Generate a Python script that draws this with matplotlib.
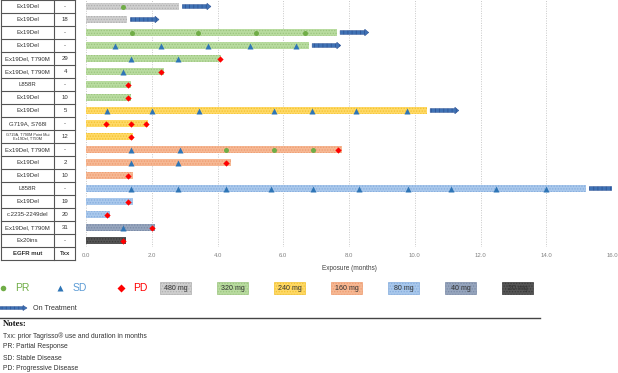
import matplotlib
matplotlib.use("Agg")
import matplotlib.pyplot as plt
from matplotlib.patches import Rectangle, FancyArrow

plt.rcParams['font.family'] = ['Liberation Sans', 'DejaVu Sans']
plt.rcParams['hatch.linewidth'] = 0.6

# patient rows, top to bottom
mutations = ["Ex19Del", "Ex19Del", "Ex19Del", "Ex19Del", "Ex19Del, T790M",
             "Ex19Del, T790M", "L858R", "Ex19Del", "Ex19Del", "G719A, S768I",
             "G719A, T790M Point Mut\nEx19Del, T790M", "Ex19Del, T790M", "Ex19Del",
             "Ex19Del", "L858R", "Ex19Del", "c.2235-2249del", "Ex19Del, T790M", "Ex20ins"]
txx = ["-", "18", "-", "-", "29", "4", "-", "10", "5", "-", "12", "-", "2", "10",
       "-", "19", "20", "31", "-"]
doses = ["480 mg", "480 mg", "320 mg", "320 mg", "320 mg", "320 mg", "320 mg", "320 mg",
         "240 mg", "240 mg", "240 mg", "160 mg", "160 mg", "160 mg",
         "80 mg", "80 mg", "80 mg", "40 mg", "20 mg"]
exposure = [2.83, 1.25, 7.63, 6.78, 4.10, 2.38, 1.38, 1.38, 10.37, 1.90, 1.42,
            7.78, 4.40, 1.42, 15.21, 1.42, 0.73, 2.10, 1.22]
on_treatment = [True, True, True, True, False, False, False, False, True, False, False,
                False, False, False, True, False, False, False, False]

# response assessments (months), keyed by row
pr_times = {0: [1.13], 2: [1.40, 3.40, 5.17, 6.67], 11: [4.25, 5.72, 6.89]}
sd_times = {3: [0.88, 2.28, 3.72, 4.98, 6.39], 4: [1.36, 2.79], 5: [1.13],
            8: [0.63, 2.02, 3.45, 5.72, 6.88, 8.22, 9.77], 11: [1.36, 2.86],
            12: [1.36, 2.79],
            14: [1.37, 2.79, 4.25, 5.63, 6.89, 8.29, 9.78, 11.09, 12.48, 14.00],
            17: [1.12]}
pd_times = {4: [4.09], 5: [2.28], 6: [1.27], 7: [1.27], 9: [0.61, 1.36, 1.83],
            10: [1.37], 11: [7.68], 12: [4.25], 13: [1.29], 15: [1.27], 16: [0.63],
            17: [2.00], 18: [1.14]}

dose_levels = ["480 mg", "320 mg", "240 mg", "160 mg", "80 mg", "40 mg", "20 mg"]
dose_colors = {"480 mg": ("#cfcfcf", "#b0b0b0"), "320 mg": ("#b9dca0", "#9cc47f"),
               "240 mg": ("#ffd966", "#f2c230"), "160 mg": ("#f6b894", "#ee9c70"),
               "80 mg": ("#a9c8ec", "#86addd"), "40 mg": ("#96a5bd", "#7a8aa6"),
               "20 mg": ("#555555", "#3a3a3a")}

notes = ["Txx: prior Tagrisso\u00ae use and duration in months",
         "PR: Partial Response", "SD: Stable Disease", "PD: Progressive Disease"]

W, H = 618, 373
fig = plt.figure(figsize=(W / 100, H / 100), dpi=100)


def box(l, t, r, b):
    return [l / W, 1 - b / H, (r - l) / W, (b - t) / H]


n = len(mutations)

# ---- main swimmer plot
ax = fig.add_axes(box(86, 0, 612, 247))
ax.set_xlim(0, 16)
ax.set_ylim(n - 0.5, -0.5)
for i in range(n):
    fc, ec = dose_colors[doses[i]]
    ax.barh(i, exposure[i], height=0.5, color=fc, edgecolor=ec, hatch='......',
            linewidth=0, zorder=2)
    if on_treatment[i]:
        ax.add_patch(FancyArrow(exposure[i] + 0.1, i, 0.75, 0, width=0.28,
                                head_width=0.5, head_length=0.12,
                                length_includes_head=False, facecolor="#3f72b5",
                                edgecolor="#2f5597", linewidth=0.4, zorder=3,
                                hatch='||||'))
for i, xs in pr_times.items():
    ax.plot(xs, [i] * len(xs), 'o', color="#70ad47", ms=3.6, mec='none', zorder=4)
for i, xs in sd_times.items():
    ax.plot(xs, [i] * len(xs), '^', color="#2e75b6", ms=3.8, mec='none', zorder=4)
for i, xs in pd_times.items():
    ax.plot(xs, [i] * len(xs), 'D', color="#ff0000", ms=3.2, mec='none', zorder=4)

ax.set_xticks(range(0, 17, 2))
ax.set_xticklabels([f"{v:.1f}" for v in range(0, 17, 2)], fontsize=4.3, color="#808080")
ax.set_yticks([])
ax.tick_params(axis='x', length=0, pad=4)
ax.grid(axis='x', color="#c8c8c8", linestyle=(0, (1, 1.5)), linewidth=0.7, zorder=0)
for s in ax.spines.values():
    s.set_visible(False)
ax.set_xlabel("Exposure (months)", fontsize=4.7, color="#404040", labelpad=5)

# ---- table on the left
tb = fig.add_axes(box(1, 0, 75, 260))
tb.set_xlim(0, 74)
tb.set_ylim(n + 0.5, -0.5)
tb.axis('off')
rows = mutations + ["EGFR mut"]
vals = txx + ["Txx"]
for i, (m, t) in enumerate(zip(rows, vals)):
    hdr = i == n
    fs = 2.8 if "\n" in m else 4.3
    tb.text(26.5, i, m, ha='center', va='center', fontsize=fs, color="#333333",
            fontweight='bold' if hdr else 'normal', linespacing=1.0)
    tb.text(64, i, t, ha='center', va='center', fontsize=4.3, color="#333333",
            fontweight='bold' if hdr else 'normal')
for k in range(n + 2):
    tb.plot([0, 74], [k - 0.5, k - 0.5], color="#555555", lw=0.8, clip_on=False)
for xv in (0, 53, 74):
    tb.plot([xv, xv], [-0.5, n + 0.5], color="#555555", lw=0.8, clip_on=False)

# ---- legend and notes (figure pixel space)
lg = fig.add_axes([0, 0, 1, 1], zorder=-1)
lg.set_xlim(0, W)
lg.set_ylim(H, 0)
lg.axis('off')
ly = 288
lg.plot(3, ly, 'o', color="#70ad47", ms=4, mec='none')
lg.text(15, ly, "PR", fontsize=7.5, color="#70ad47", va='center')
lg.plot(60, ly, '^', color="#2e75b6", ms=4.2, mec='none')
lg.text(73, ly, "SD", fontsize=7.5, color="#5b9bd5", va='center')
lg.plot(121, ly, 'D', color="#ff0000", ms=3.6, mec='none')
lg.text(133, ly, "PD", fontsize=7.5, color="#ff0000", va='center')
for k, d in enumerate(dose_levels):
    x0 = 160 + 57 * k
    fc, ec = dose_colors[d]
    lg.add_patch(Rectangle((x0, 282), 31, 12, facecolor=fc, edgecolor=ec,
                           hatch='......', linewidth=0.5))
    lg.text(x0 + 15.5, ly, d, fontsize=5.1, color="#333333", ha='center', va='center')

lg.add_patch(FancyArrow(0, 308, 23, 0, width=2.6, head_width=5, head_length=4,
                        facecolor="#3f72b5", edgecolor="#2f5597", linewidth=0.4,
                        hatch='||||'))
lg.text(33, 308, "On Treatment", fontsize=5.1, color="#333333", va='center')

lg.plot([0, 540], [318, 318], color="#444444", lw=1.0)
lg.text(3, 323.5, "Notes:", fontsize=6.3, fontweight='bold', va='center',
        family='Liberation Serif', color="#111111")
for k, line in enumerate(notes):
    lg.text(3, 336 + 11 * k, line, fontsize=4.9, color="#333333", va='center')

fig.savefig("out.png", dpi=100)
